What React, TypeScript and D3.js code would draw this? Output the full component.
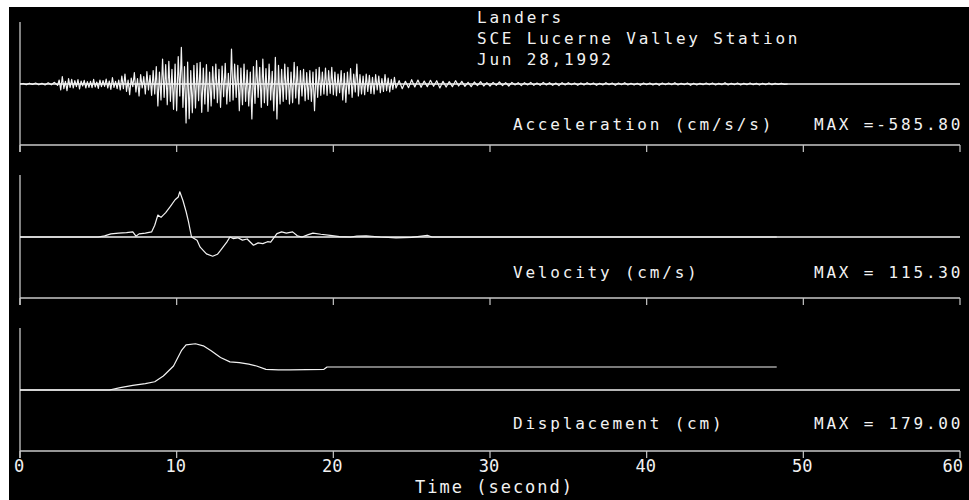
import React from "react";
import * as d3 from "d3";

const W = 969;
const H = 500;

// Time axis (seconds)
const timeTicks = [0, 10, 20, 30, 40, 50, 60];
const timeLabel = "Time (second)";

// Record header
const titleLines = ["Landers", "SCE Lucerne Valley Station", "Jun 28,1992"];

// Acceleration record (cm/s/s), stored as evenly sampled pieces
const accelQuietStart = 0;
const accelQuietStep = 0.2;
const accelQuiet = [0, 8, -10, 12, -6, 15, -12, 10, -15, 18, -12, 25, -20];

const accelOnsetStart = 2.5;
const accelOnsetStep = 0.1;
const accelOnset = [
  60, -90, 110, -70, 40, -100, 80, -50, 70, -60,
  50, -40, 65, -75, 45, -30, 55, -60, 35, -50,
  40, -55, 70, -45, 30, -65, 60, -40, 50, -35,
  75, -60, 45, -80, 95, -50, 40, -70, 60, -90,
  120, -70, 150, -110, 60, -160, 90, -40, 170, -120,
  80, -180, 140, -60, 110, -150, 185, -90, 130, -170,
];

const accelStrongStart = 8.5;
const accelStrongStep = 0.1;
const accelStrong = [
  200, -150, 260, -330, 180, -240, 375, -200, 290, -310,
  340, -260, 220, -380, 300, -400, 410, -180, 550, -350,
  260, -585.8, 330, -520, 200, -430, 280, -360, 310, -250,
  325, -425, 240, -300, 290, -410, 180, -330, 260, -220,
  300, -280, 220, -350, 270, -190, 310, -300, 160, -260,
  525, -240, 300, -200, 280, -400, 240, -310, 300, -260,
  210, -330, 180, -525, 260, -290, 350, -200, 250, -350,
  375, -280, 230, -320, 300, -240, 190, -400, 400, -525,
  280, -300, 220, -260, 300, -230, 250, -300, 180, -280,
  325, -210, 260, -300, 200, -180, 220, -250, 170, -230,
  200, -260, 180, -400, 220, -200, 250, -170, 180, -150,
  240, -170, 200, -140, 250, -160, 180, -175, 150, -130,
  200, -240, 160, -275, 180, -150, 230, -200, 150, -120,
  300, -180, 140, -150, 120, -160, 150, -110, 130, -140,
  100, -150, 140, -90, 120, -130, 80, -110, 140, -100,
  90, -120, 70, -80, 100,
];

const accelCodaStart = 24;
const accelCodaStep = 0.2;
const accelCoda = [
  -60, 50, -70, 40, -55, 65, -45, 60, -50, 45,
  -40, 55, -35, 50, -60, 40, -45, 35, -40, 50,
  -30, 40, -35, 25, -40, 30, -25, 35, -30, 20,
  -30, 25, -20, 30, -25, 20, -30, 25, -15, 20,
  -25, 20, -15, 25, -20, 15, -20, 25, -15, 20,
  -20, 15, -25, 20, -15, 20, -10, 15, -20, 15,
  -15, 20, -10, 15, -20, 10, -15, 20, -10, 15,
  -20, 15, -10, 20, -15, 10, -15, 10, -20, 15,
  -10, 15, -15, 10, -20, 15, -10, 15, -10, 20,
  -15, 10, -10, 15, -20, 10, -15, 10, -10, 15,
  -10, 15, -15, 10, -10, 20, -15, 10, -10, 15,
  -15, 10, -10, 15, -10, 10, -15, 10, -10, 15,
  -10, 10, -5, 10, -5, 0,
];

// Velocity record (cm/s)
const velTimes = [
  0, 5.0, 5.4, 5.8, 6.3, 6.8, 7.2, 7.4, 7.6, 8.0, 8.4, 8.6, 8.8, 9.0, 9.3, 9.6,
  9.9, 10.1, 10.2, 10.4, 10.6, 10.75, 10.95, 11.3, 11.5, 11.9, 12.3, 12.6, 12.8,
  13.2, 13.4, 13.6, 13.9, 14.2, 14.5, 14.9, 15.2, 15.5, 15.8, 16.0, 16.4, 16.7,
  17.0, 17.4, 17.7, 18.0, 18.4, 18.7, 19.2, 19.8, 20.4, 21.1, 21.5, 22.1, 23.0,
  24.0, 25.0, 26.0, 26.3, 30.0, 48.3,
];
const velValues = [
  0, 0, 3, 8, 10, 11, 13, 2, 8, 10, 13, 30, 56, 50, 62, 78,
  95, 102, 115.3, 93, 65, 40, 0, -8.5, -26, -43, -49, -44, -34,
  -13, 0, -4, -2, -8, -5, -21, -15, -17, -12, -13, 8.5, 13,
  10, 13, 3, 0, 6, 10, 7, 4, 1, 0, 2, 3, 0,
  -2, -1, 4, 0, 0, 0,
];

// Displacement record (cm)
const dispTimes = [
  0, 5.7, 6.4, 7.2, 8.0, 8.6, 9.15, 9.8, 10.3, 10.6, 11.2, 11.7, 12.2, 12.8,
  13.4, 14.0, 14.6, 15.1, 15.7, 16.5, 17.2, 19.4, 19.6, 25.0, 35.0, 48.3,
];
const dispValues = [
  0, 0, 9, 18, 25, 32, 54, 93, 152, 175, 179, 171, 152, 126,
  109, 106, 100, 93, 80, 78, 78, 80, 89, 89, 89, 89,
];

const channelNames = ["Acceleration (cm/s/s)", "Velocity (cm/s)", "Displacement (cm)"];
const channelMaxima = ["MAX =-585.80", "MAX = 115.30", "MAX = 179.00"];

type Pt = [number, number];

function sampled(start: number, step: number, values: number[]): Pt[] {
  return values.map((v, i) => [start + i * step, v] as Pt);
}

function paired(times: number[], values: number[]): Pt[] {
  return times.map((t, i) => [t, values[i]] as Pt);
}

const FONT = "'DejaVu Sans Mono', monospace";
const INK = "#f2f2f2";
const AXIS = "#c8c8c8";

export default function App() {
  const x = d3.scaleLinear().domain([0, 60]).range([20, 960]);

  const accel: Pt[] = [
    ...sampled(accelQuietStart, accelQuietStep, accelQuiet),
    ...sampled(accelOnsetStart, accelOnsetStep, accelOnset),
    ...sampled(accelStrongStart, accelStrongStep, accelStrong),
    ...sampled(accelCodaStart, accelCodaStep, accelCoda),
  ];
  const vel = paired(velTimes, velValues);
  const disp = paired(dispTimes, dispValues);

  const panels = [
    { data: accel, top: 22, extent: 931, labelY: 130 },
    { data: vel, top: 175, extent: 158, labelY: 278 },
    { data: disp, top: 328, extent: 240, labelY: 429 },
  ].map((p, i) => ({ ...p, name: channelNames[i], max: channelMaxima[i] }));

  return (
    <svg
      width={W}
      height={H}
      viewBox={`0 0 ${W} ${H}`}
      style={{ position: "absolute", left: 0, top: 0, display: "block" }}
    >
      <rect x={0} y={0} width={W} height={H} fill="#ffffff" />
      <rect x={9} y={7} width={W - 9} height={H - 7} fill="#000000" />

      {panels.map((p, i) => {
        const y = d3.scaleLinear().domain([-p.extent, p.extent]).range([p.top + 124, p.top]);
        const zeroY = y(0);
        const axisY = p.top + 123;
        const line = d3
          .line<Pt>()
          .x((d) => x(d[0]))
          .y((d) => y(d[1]));
        return (
          <g key={i}>
            {/* left vertical axis */}
            <line x1={x(0)} x2={x(0)} y1={p.top} y2={axisY + 7} stroke={AXIS} strokeWidth={1.3} />
            {/* zero line */}
            <line x1={x(0)} x2={x(60)} y1={zeroY} y2={zeroY} stroke={INK} strokeWidth={1.4} />
            {/* bottom time axis */}
            <line x1={x(0)} x2={x(60)} y1={axisY} y2={axisY} stroke={AXIS} strokeWidth={1.5} />
            {timeTicks.map((t) => (
              <line key={t} x1={x(t)} x2={x(t)} y1={axisY} y2={axisY + 7} stroke={AXIS} strokeWidth={1.2} />
            ))}
            <path d={line(p.data) || ""} fill="none" stroke={INK} strokeWidth={1.2} strokeLinejoin="round" />
            <text x={513} y={p.labelY} fill={INK} fontFamily={FONT} fontSize={16} letterSpacing={2.8}>
              {p.name}
            </text>
            <text x={814} y={p.labelY} fill={INK} fontFamily={FONT} fontSize={16} letterSpacing={2.8}>
              {p.max}
            </text>
          </g>
        );
      })}

      {titleLines.map((s, i) => (
        <text key={i} x={477} y={23 + i * 21} fill={INK} fontFamily={FONT} fontSize={16} letterSpacing={2.8}>
          {s}
        </text>
      ))}

      {timeTicks.map((t, i) => {
        const last = i === timeTicks.length - 1;
        return (
          <text
            key={t}
            x={last ? 963 : x(t) - 1}
            y={472}
            fill={INK}
            fontFamily={FONT}
            fontSize={17}
            letterSpacing={last ? 0 : 0}
            textAnchor={last ? "end" : "middle"}
          >
            {t}
          </text>
        );
      })}
      <text x={415} y={493} fill={INK} fontFamily={FONT} fontSize={17} letterSpacing={2}>
        {timeLabel}
      </text>
    </svg>
  );
}
